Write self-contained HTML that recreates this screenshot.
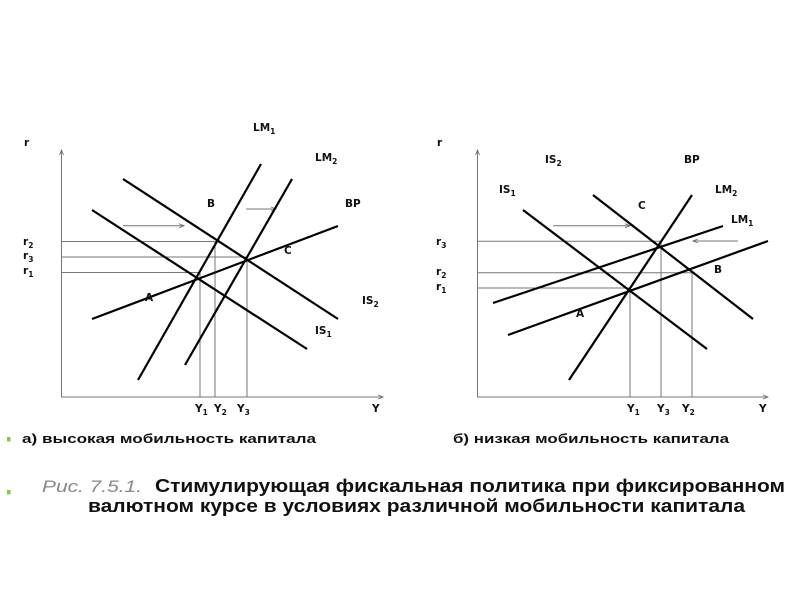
<!DOCTYPE html>
<html><head><meta charset="utf-8"><style>
body{margin:0;background:#fff;}
svg{display:block}
.l{font-family:"DejaVu Sans",sans-serif;font-size:10.5px;font-weight:bold;fill:#111}
.s{font-size:7.5px}
</style></head><body>
<svg width="800" height="600" viewBox="0 0 800 600" xmlns="http://www.w3.org/2000/svg">
<defs><marker id="ar" markerWidth="6" markerHeight="6" refX="5" refY="3" orient="auto"><path d="M0,1 L5,3 L0,5" fill="none" stroke="#666" stroke-width="0.8"/></marker></defs>
<g stroke="#777" stroke-width="1" fill="none">
<line x1="61.5" y1="397" x2="61.5" y2="150" marker-end="url(#ar)"/>
<line x1="61" y1="397" x2="383" y2="397" marker-end="url(#ar)"/>
<line x1="61" y1="241.5" x2="215" y2="241.5"/><line x1="61" y1="257" x2="247" y2="257"/><line x1="61" y1="272.5" x2="200" y2="272.5"/>
<line x1="200" y1="272" x2="200" y2="397"/><line x1="215" y1="241" x2="215" y2="397"/><line x1="247" y1="257" x2="247" y2="397"/>
<line x1="123" y1="225.7" x2="184" y2="225.7" marker-end="url(#ar)"/><line x1="246" y1="209" x2="276" y2="209" marker-end="url(#ar)"/>
<line x1="477.5" y1="397" x2="477.5" y2="150" marker-end="url(#ar)"/>
<line x1="477" y1="397" x2="768" y2="397" marker-end="url(#ar)"/>
<line x1="477" y1="241.3" x2="660" y2="241.3"/><line x1="477" y1="272.7" x2="692" y2="272.7"/><line x1="477" y1="288" x2="630" y2="288"/>
<line x1="630" y1="288" x2="630" y2="397"/><line x1="661" y1="241" x2="661" y2="397"/><line x1="692" y1="272" x2="692" y2="397"/>
<line x1="553" y1="225.7" x2="630" y2="225.7" marker-end="url(#ar)"/><line x1="738" y1="241" x2="693" y2="241" marker-end="url(#ar)"/>
</g>
<g stroke="#000" stroke-width="2.2">
<line x1="138" y1="380" x2="261" y2="164"/><line x1="185" y1="365" x2="292" y2="179"/>
<line x1="123" y1="179" x2="338" y2="319"/><line x1="92" y1="210" x2="307" y2="349"/>
<line x1="92" y1="319" x2="338" y2="226"/>
<line x1="523" y1="210" x2="707" y2="349"/><line x1="593" y1="195" x2="753" y2="319"/>
<line x1="569" y1="380" x2="692" y2="195"/><line x1="493" y1="303" x2="723" y2="226"/>
<line x1="508" y1="335" x2="768" y2="241"/>
</g>
<g class="l">
<text x="24" y="146">r</text><text x="253" y="131">LM<tspan class="s" dy="3">1</tspan></text>
<text x="315" y="161">LM<tspan class="s" dy="3">2</tspan></text><text x="207" y="207">B</text><text x="345" y="207">BP</text>
<text x="284" y="254">C</text><text x="145" y="301">A</text><text x="362" y="304">IS<tspan class="s" dy="3">2</tspan></text>
<text x="315" y="334">IS<tspan class="s" dy="3">1</tspan></text>
<text x="23" y="245">r<tspan class="s" dy="3">2</tspan></text><text x="23" y="259">r<tspan class="s" dy="3">3</tspan></text><text x="23" y="274">r<tspan class="s" dy="3">1</tspan></text>
<text x="195" y="412">Y<tspan class="s" dy="3">1</tspan></text><text x="214" y="412">Y<tspan class="s" dy="3">2</tspan></text><text x="237" y="412">Y<tspan class="s" dy="3">3</tspan></text><text x="372" y="412">Y</text>
<text x="437" y="146">r</text><text x="545" y="163">IS<tspan class="s" dy="3">2</tspan></text><text x="684" y="163">BP</text>
<text x="499" y="193">IS<tspan class="s" dy="3">1</tspan></text><text x="715" y="193">LM<tspan class="s" dy="3">2</tspan></text>
<text x="638" y="209">C</text><text x="731" y="223">LM<tspan class="s" dy="3">1</tspan></text>
<text x="436" y="245">r<tspan class="s" dy="3">3</tspan></text><text x="436" y="275">r<tspan class="s" dy="3">2</tspan></text><text x="436" y="290">r<tspan class="s" dy="3">1</tspan></text>
<text x="714" y="273">B</text><text x="576" y="317">A</text>
<text x="627" y="412">Y<tspan class="s" dy="3">1</tspan></text><text x="657" y="412">Y<tspan class="s" dy="3">3</tspan></text><text x="682" y="412">Y<tspan class="s" dy="3">2</tspan></text><text x="759" y="412">Y</text>
</g>
<rect x="7" y="437" width="3.5" height="4.5" fill="#8dc63f"/>
<rect x="7" y="490" width="3.5" height="4.5" fill="#8dc63f"/>
<g font-family="'Liberation Sans',sans-serif" font-weight="bold" fill="#111">
<text x="22" y="443" font-size="13" textLength="294" lengthAdjust="spacingAndGlyphs">а) высокая мобильность капитала</text>
<text x="453" y="443" font-size="13" textLength="276" lengthAdjust="spacingAndGlyphs">б) низкая мобильность капитала</text>
<text x="42" y="492" font-size="17" font-style="italic" font-weight="normal" fill="#888" textLength="100" lengthAdjust="spacingAndGlyphs">Рис. 7.5.1.</text>
<text x="155" y="492" font-size="18" textLength="630" lengthAdjust="spacingAndGlyphs">Стимулирующая фискальная политика при фиксированном</text>
<text x="88" y="512" font-size="18" textLength="657" lengthAdjust="spacingAndGlyphs">валютном курсе в условиях различной мобильности капитала</text>
</g>
</svg>
</body></html>
